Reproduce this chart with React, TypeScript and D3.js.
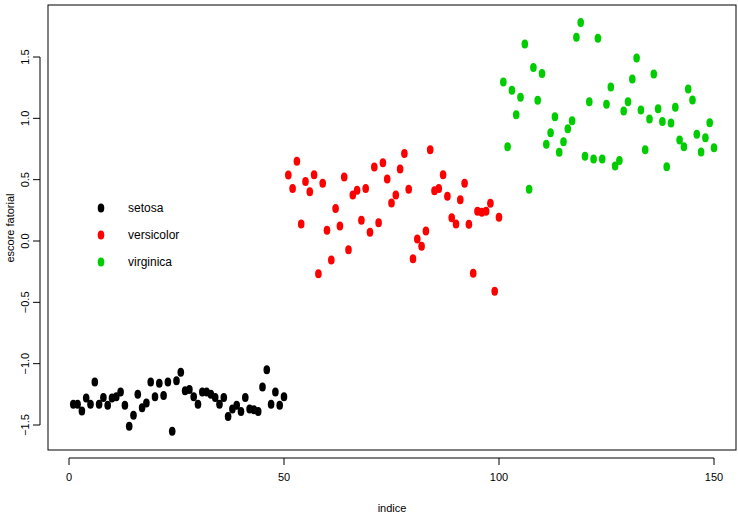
import React from "react";
import * as d3 from "d3";

const setosa = [-1.33,-1.33,-1.385,-1.28,-1.33,-1.15,-1.33,-1.275,-1.34,-1.28,-1.27,-1.23,-1.34,-1.51,-1.42,-1.25,-1.36,-1.32,-1.15,-1.27,-1.16,-1.26,-1.15,-1.55,-1.14,-1.07,-1.22,-1.21,-1.27,-1.33,-1.23,-1.23,-1.25,-1.275,-1.33,-1.275,-1.43,-1.37,-1.34,-1.39,-1.275,-1.37,-1.375,-1.39,-1.19,-1.05,-1.33,-1.23,-1.34,-1.27];
const versicolor = [0.538,0.429,0.65,0.139,0.486,0.402,0.541,-0.266,0.47,0.087,-0.155,0.264,0.122,0.522,-0.071,0.375,0.413,0.169,0.429,0.071,0.603,0.149,0.638,0.505,0.31,0.375,0.587,0.714,0.421,-0.144,0.016,-0.043,0.081,0.744,0.41,0.429,0.541,0.364,0.19,0.139,0.337,0.47,0.136,-0.263,0.242,0.234,0.242,0.307,-0.41,0.193];
const virginica = [1.296,0.769,1.228,1.03,1.171,1.606,0.421,1.415,1.147,1.366,0.788,0.883,1.013,0.723,0.81,0.915,0.981,1.66,1.782,0.69,1.135,0.668,1.652,0.668,1.114,1.255,0.611,0.657,1.06,1.135,1.32,1.491,1.068,0.744,0.994,1.361,1.079,0.975,0.606,0.962,1.09,0.823,0.769,1.239,1.149,0.87,0.725,0.842,0.964,0.76];
const groups = [
  { name: "setosa", color: "#000000", values: setosa },
  { name: "versicolor", color: "#ff0000", values: versicolor },
  { name: "virginica", color: "#00cd00", values: virginica },
];
const xTicks = [0, 50, 100, 150];
const yTicks = [-1.5, -1, -0.5, 0, 0.5, 1, 1.5];

export default function App() {
  const x = d3.scaleLinear().domain([0, 150]).range([69, 714]);
  const y = d3.scaleLinear().domain([-1.5, 1.5]).range([425, 57]);
  const font = "'Liberation Sans', Arial, sans-serif";
  return (
    <svg width={738} height={518} style={{ position: "absolute", left: 0, top: 0 }} fontFamily={font}>
      <rect x={48} y={5} width={688} height={445} fill="none" stroke="#000" />
      <line x1={x(0)} x2={x(150)} y1={458} y2={458} stroke="#000" />
      {xTicks.map(t => (
        <g key={t}>
          <line x1={x(t)} x2={x(t)} y1={458} y2={465} stroke="#000" />
          <text x={x(t)} y={481} fontSize={11} textAnchor="middle">{t}</text>
        </g>
      ))}
      <line x1={40} x2={40} y1={y(-1.5)} y2={y(1.5)} stroke="#000" />
      {yTicks.map(t => (
        <g key={t}>
          <line x1={33} x2={40} y1={y(t)} y2={y(t)} stroke="#000" />
          <text transform={`translate(29,${y(t)}) rotate(-90)`} fontSize={11} textAnchor="middle">{t === 0 ? "0.0" : d3.format(".1f")(t).replace("-", "\u2212")}</text>
        </g>
      ))}
      <text x={392} y={512} fontSize={11} textAnchor="middle">indice</text>
      <text transform={`translate(14,228) rotate(-90)`} fontSize={11} textAnchor="middle">escore fatorial</text>
      {groups.map((g, gi) =>
        g.values.map((v, i) => (
          <ellipse key={g.name + i} cx={x(gi * 50 + i + 1)} cy={y(v)} rx={3.3} ry={4.5} fill={g.color} />
        ))
      )}
      {groups.map((g, gi) => (
        <g key={g.name}>
          <ellipse cx={101} cy={208 + gi * 27} rx={3.3} ry={4.5} fill={g.color} />
          <text x={128} y={212 + gi * 27} fontSize={12}>{g.name}</text>
        </g>
      ))}
    </svg>
  );
}
